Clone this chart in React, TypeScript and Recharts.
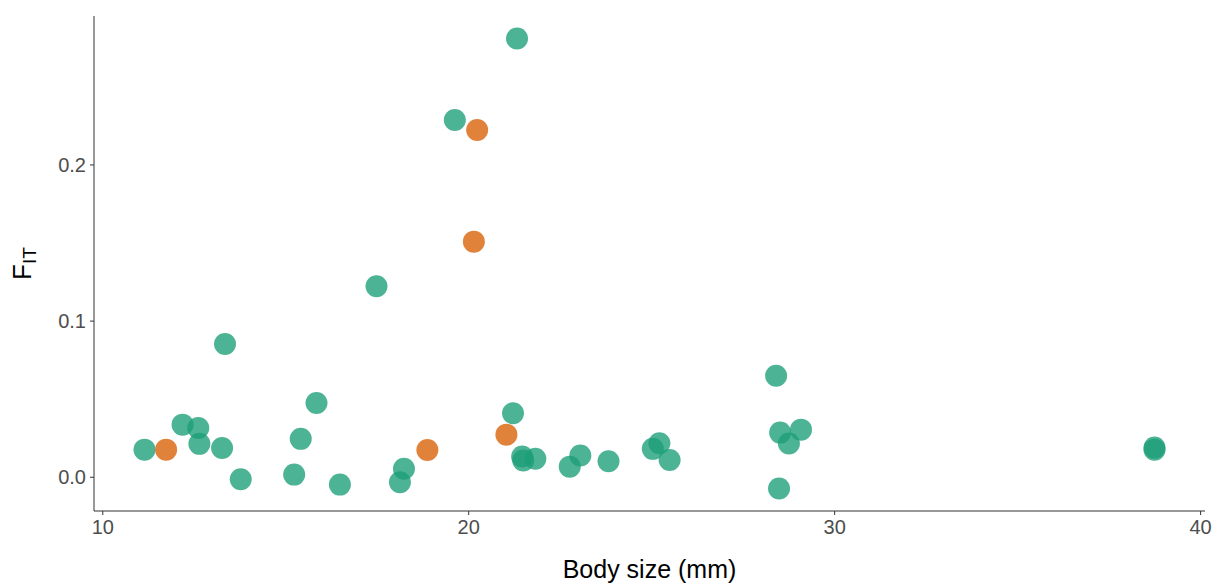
import React from 'react';
import { ScatterChart, Scatter, XAxis, YAxis } from 'recharts';

const greenX = [11.14, 12.18, 12.61, 12.64, 13.26, 13.34, 13.77, 15.23, 15.41, 15.84, 16.48, 17.48, 18.12, 18.23, 19.62, 21.32, 21.21, 21.46, 21.49, 21.82, 22.76, 23.05, 23.82, 25.03, 25.21, 25.49, 28.40, 28.51, 28.75, 29.08, 28.48, 38.74, 38.74];
const greenY = [0.0177, 0.0337, 0.0316, 0.0214, 0.0188, 0.0854, -0.0013, 0.0017, 0.0246, 0.0476, -0.0047, 0.1223, -0.0032, 0.0054, 0.2288, 0.281, 0.041, 0.0133, 0.0107, 0.0118, 0.0068, 0.0139, 0.0102, 0.0182, 0.0218, 0.0111, 0.065, 0.0286, 0.0216, 0.0305, -0.0072, 0.019, 0.0177];
const orangeX = [11.73, 18.87, 21.03, 20.23, 20.14];
const orangeY = [0.0177, 0.0175, 0.0273, 0.2224, 0.1509];

const xTicks = [10, 20, 30, 40];
const yTicks = [0, 0.1, 0.2];

const greenData = greenX.map((x, i) => ({ x, y: greenY[i] }));
const orangeData = orangeX.map((x, i) => ({ x, y: orangeY[i] }));

const FONT = 'Liberation Sans, Arial, sans-serif';

const dot = (color: string) => (props: any) => (
  <circle cx={props.cx} cy={props.cy} r={11} fill={color} fillOpacity={0.78} />
);

const YLabel = (props: any) => {
  const vb = props.viewBox || {};
  const cy = vb.y + vb.height / 2;
  const x = 31;
  return (
    <text
      x={x}
      y={cy}
      transform={`rotate(-90, ${x}, ${cy})`}
      textAnchor="middle"
      fontFamily={FONT}
      fill="#000"
    >
      <tspan fontSize={26}>F</tspan>
      <tspan fontSize={19} dy={5}>IT</tspan>
    </text>
  );
};

const XLabel = (props: any) => {
  const vb = props.viewBox || {};
  const cx = vb.x + vb.width / 2;
  return (
    <text x={cx} y={vb.y + 67} textAnchor="middle" fontFamily={FONT} fontSize={25} fill="#000">
      Body size (mm)
    </text>
  );
};

export default function App() {
  return (
    <div style={{ position: 'absolute', left: 0, top: 0, background: '#fff' }}>
      <ScatterChart width={1215} height={584} margin={{ top: 16, right: 10, bottom: 0, left: 0 }}>
        <XAxis
          type="number"
          dataKey="x"
          domain={[9.76, 40.12]}
          ticks={xTicks}
          allowDataOverflow
          height={73}
          stroke="#333"
          tickSize={4}
          tickMargin={5}
          tick={{ fill: '#4D4D4D', fontSize: 20, fontFamily: FONT }}
          tickLine={{ stroke: '#333' }}
          label={<XLabel />}
        />
        <YAxis
          type="number"
          dataKey="y"
          domain={[-0.0216, 0.2954]}
          ticks={yTicks}
          allowDataOverflow
          width={94}
          stroke="#333"
          tickSize={4}
          tickMargin={4}
          tickFormatter={(v: number) => v.toFixed(1)}
          tick={{ fill: '#4D4D4D', fontSize: 20, fontFamily: FONT }}
          tickLine={{ stroke: '#333' }}
          label={<YLabel />}
        />
        <Scatter data={greenData} shape={dot('#1B9E77')} isAnimationActive={false} />
        <Scatter data={orangeData} shape={dot('#D95F02')} isAnimationActive={false} />
      </ScatterChart>
    </div>
  );
}
